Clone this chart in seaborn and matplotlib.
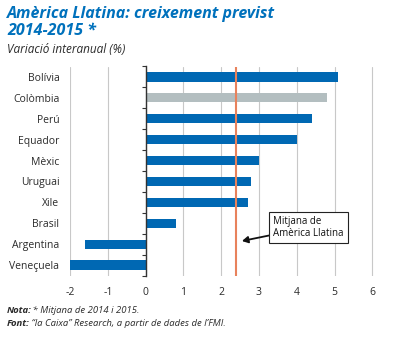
import matplotlib
matplotlib.use("Agg")
import matplotlib.pyplot as plt
import seaborn as sns
import pandas as pd
import numpy as np

countries = ["Bolívia", "Colòmbia", "Perú", "Equador", "Mèxic", "Uruguai", "Xile", "Brasil", "Argentina", "Veneçuela"]
growth = [5.1, 4.8, 4.4, 4.0, 3.0, 2.8, 2.7, 0.8, -1.6, -2.0]
highlight = [False, True, False, False, False, False, False, False, False, False]
latam_mean = 2.4
xticks = [-2, -1, 0, 1, 2, 3, 4, 5, 6]

BLUE = "#0068B3"
GREY = "#B3BEC0"
ORANGE = "#E8825C"
TEXT = "#2B2B2B"
FONT = ["Open Sans", "DejaVu Sans"]

sns.set_theme(style="white")
plt.rcParams["font.family"] = FONT

df = pd.DataFrame({"country": countries, "growth": growth})
palette = {c: (GREY if h else BLUE) for c, h in zip(countries, highlight)}

fig = plt.figure(figsize=(4.06, 3.38), dpi=100)
ax = fig.add_axes([70/406, 1-275.5/338, (385.6-70)/406, (275.5-66.5)/338])

sns.barplot(data=df, x="growth", y="country", hue="country", orient="h",
            palette=palette, width=0.44, legend=False, ax=ax, saturation=1,
            linewidth=0)

ax.set_xlim(-2, 6.35)
ax.set_ylim(len(countries)-0.5, -0.5)
ax.set_xticks(xticks)
ax.set_xticklabels([str(t) for t in xticks], fontsize=7.5, color=TEXT)
ax.xaxis.grid(True, color="#C8C8C8", linewidth=0.8)
ax.set_axisbelow(True)
ax.set_xlabel("")
ax.set_ylabel("")
for s in ["top", "right", "bottom"]:
    ax.spines[s].set_visible(False)
ax.spines["left"].set_position(("data", 0))
ax.spines["left"].set_color("#333333")
ax.spines["left"].set_linewidth(1.0)
ax.tick_params(axis="x", length=0, pad=8)
ax.set_yticks(np.arange(len(countries)))
ax.set_yticklabels(countries, fontsize=7.5, color=TEXT)
ax.set_yticks(np.arange(len(countries)+1) - 0.5, minor=True)
ax.tick_params(axis="y", which="major", length=0, pad=62)
ax.tick_params(axis="y", which="minor", length=3, width=0.8, color="#333333", left=True)

ax.axvline(latam_mean, color=ORANGE, linewidth=1.5, zorder=5)

ax.annotate("Mitjana de\nAmèrica Llatina", xy=(2.55, 7.85), xytext=(3.38, 7.2),
            fontsize=7, color="#111111", va="center", ha="left",
            bbox=dict(boxstyle="square,pad=0.4", fc="white", ec="#222222", lw=0.8),
            arrowprops=dict(arrowstyle="-|>,head_length=0.5,head_width=0.28", color="#111111",
                            lw=1.3, shrinkA=0, shrinkB=0),
            zorder=6)

fig.text(7/406, 1-6/338, "Amèrica Llatina: creixement previst\n2014-2015 *", fontsize=11.5,
         fontweight="bold", fontstyle="italic", color="#0071BC", va="top", ha="left",
         linespacing=1.05)
fig.text(7/406, 1-43/338, "Variació interanual (%)", fontsize=8.5, fontstyle="italic",
         color=TEXT, va="top", ha="left")

fig.text(7/406, 1-306/338, "Nota:", fontsize=6.8, fontweight="bold", fontstyle="italic",
         color=TEXT, va="top", ha="left")
fig.text(7/406, 1-319/338, "Font:", fontsize=6.8, fontweight="bold", fontstyle="italic",
         color=TEXT, va="top", ha="left")
fig.text(30/406, 1-306/338, " * Mitjana de 2014 i 2015.", fontsize=6.8, fontstyle="italic",
         color=TEXT, va="top", ha="left")
fig.text(29/406, 1-319/338, " “la Caixa” Research, a partir de dades de l’FMI.", fontsize=6.8,
         fontstyle="italic", color=TEXT, va="top", ha="left")

fig.savefig("out.png", dpi=100, facecolor="white")
